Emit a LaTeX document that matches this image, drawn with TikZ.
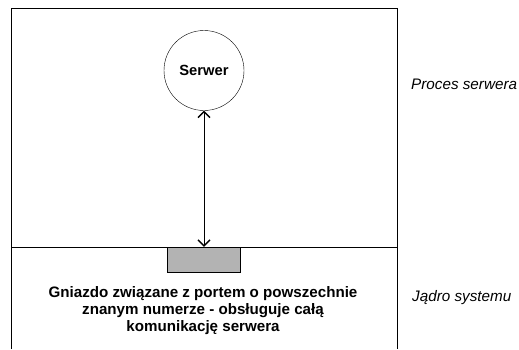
\documentclass[tikz,border=0pt]{standalone}
\usepackage{fontspec}
\setmainfont{Liberation Sans}
\usetikzlibrary{arrows.meta}
\definecolor{socketgray}{RGB}{179,179,179}
\begin{document}
\begin{tikzpicture}[x=1bp,y=-1bp,
  frameline/.style={line width=1bp},
  barb/.tip={Straight Barb[length=6bp,width=12bp,line width=1.4bp]},
  proclabel/.style={font=\itshape\fontsize{15.3}{17}\selectfont,anchor=base west,inner sep=0},
  boldtext/.style={font=\bfseries\fontsize{15.2}{16.8}\selectfont,align=center,inner sep=0}]
\useasboundingbox (0,0) rectangle (519,349);
% ramka procesu i jadra
\draw[frameline] (11.5,349) -- (11.5,8.5) -- (397,8.5) -- (397,349);
\draw[frameline] (11.5,247) -- (397,247);
\node[draw,circle,minimum size=80bp,inner sep=0,font=\bfseries\fontsize{14.8}{16}\selectfont] (serwer) at (204,70.5) {Serwer};
\node[draw,fill=socketgray,minimum width=73bp,minimum height=25bp,inner sep=0] (gniazdo) at (203.5,259.5) {};
\coordinate (gtop) at (gniazdo.north -| serwer.south);
\draw[barb-barb,line width=0.6bp] (serwer.south) -- (gtop);
\node[boldtext] (opis) at (203,310.5) {Gniazdo związane z portem o powszechnie\\znanym numerze - obsługuje całą\\komunikację serwera};
\node[proclabel] (proces) at (411,89.5) {Proces serwera};
\node[proclabel] (jadro) at (412,301) {Jądro systemu};
\end{tikzpicture}
\end{document}
